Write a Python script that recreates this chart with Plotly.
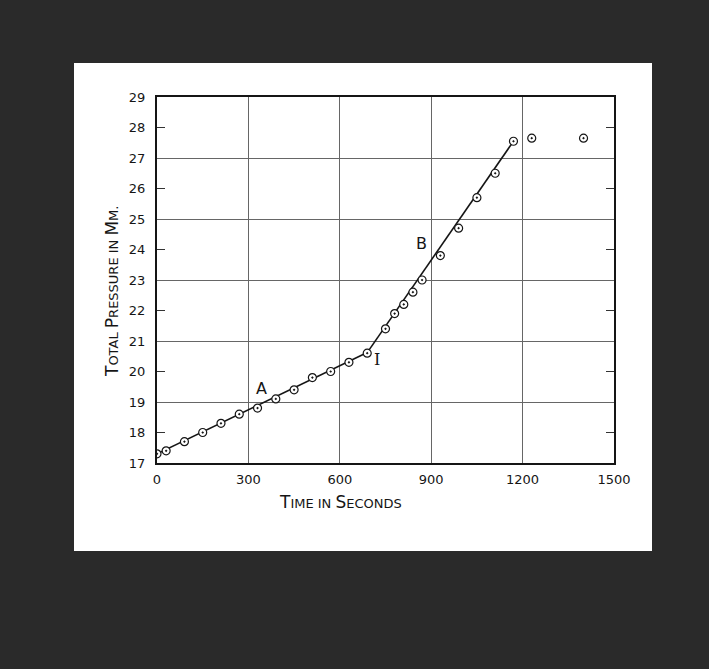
import plotly.graph_objects as go

# ---- data ----
time_s = [0, 30, 90, 150, 210, 270, 330, 390, 450, 510, 570, 630, 690,
          750, 780, 810, 840, 870, 930, 990, 1050, 1110, 1170, 1230, 1400]
pressure_mm = [17.3, 17.4, 17.7, 18.0, 18.3, 18.6, 18.8, 19.1, 19.4, 19.8, 20.0, 20.3, 20.6,
               21.4, 21.9, 22.2, 22.6, 23.0, 23.8, 24.7, 25.7, 26.5, 27.55, 27.65, 27.65]

line_a_x = [0, 690]
line_a_y = [17.3, 20.62]
line_b_x = [690, 1170]
line_b_y = [20.62, 27.55]

x_ticks = [0, 300, 600, 900, 1200, 1500]
x_grid = [300, 600, 900, 1200]
y_labels = list(range(17, 30))
y_grid = [19, 21, 23, 25, 27]
y_ticks = [18, 20, 22, 24, 26, 28]

labels = [("A", 343, 19.45), ("B", 867, 24.2), ("I", 722, 20.4)]

FONT = "DejaVu Sans"
INK = "#151515"
BG = "#2a2a2a"

fig = go.Figure()
fig.add_trace(go.Scatter(x=line_a_x, y=line_a_y, mode="lines",
                         line=dict(color=INK, width=1.6), showlegend=False, hoverinfo="skip"))
fig.add_trace(go.Scatter(x=line_b_x, y=line_b_y, mode="lines",
                         line=dict(color=INK, width=1.6), showlegend=False, hoverinfo="skip"))
fig.add_trace(go.Scatter(x=time_s, y=pressure_mm, mode="markers",
                         marker=dict(symbol="circle-dot", size=8, color="white",
                                     line=dict(color=INK, width=1.2)),
                         showlegend=False))
# helper traces so the tick-only axes are drawn
fig.add_trace(go.Scatter(x=[None], y=[None], yaxis="y2", showlegend=False))
fig.add_trace(go.Scatter(x=[None], y=[None], yaxis="y3", showlegend=False))

for txt, xv, yv in labels:
    fig.add_annotation(x=xv, y=yv, text=txt, showarrow=False,
                       font=dict(family="DejaVu Serif" if txt == "I" else FONT,
                                 size=16, color=INK))

small = "font-size:13px"
fig.add_annotation(xref="paper", yref="paper", x=(340 - 157) / 457, y=(463 - 502) / 366,
                   xanchor="center", yanchor="middle",
                   text=f"T<span style='{small}'>IME IN </span>S<span style='{small}'>ECONDS</span>",
                   showarrow=False, font=dict(family=FONT, size=17, color=INK))
fig.add_annotation(xref="paper", yref="paper", x=(112 - 157) / 457, y=(463 - 292) / 366,
                   xanchor="center", yanchor="middle",
                   text=(f"T<span style='{small}'>OTAL </span>P<span style='{small}'>RESSURE IN </span>"
                         f"M<span style='{small}'>M.</span>"),
                   textangle=-90, showarrow=False, font=dict(family=FONT, size=17, color=INK))

# white sheet of paper
fig.add_shape(type="rect", xref="paper", yref="paper", layer="below",
              x0=(74 - 157) / 457, x1=(652 - 157) / 457,
              y0=(463 - 551) / 366, y1=(463 - 63) / 366,
              fillcolor="white", line=dict(width=0))

tickfont = dict(family=FONT, size=13, color=INK)
fig.update_layout(
    width=709, height=669,
    margin=dict(l=157, r=95, t=97, b=206),
    paper_bgcolor=BG,
    plot_bgcolor="rgba(0,0,0,0)",
    xaxis=dict(range=[0, 1500], tickvals=x_ticks, ticks="", showgrid=False,
               showline=True, linecolor=INK, linewidth=2, mirror=True,
               zeroline=False, tickfont=tickfont, ticklabelstandoff=3,
               minor=dict(tickvals=x_grid, showgrid=True, gridcolor="#666666",
                          gridwidth=1, ticks="")),
    yaxis=dict(range=[17, 29], tickvals=y_labels, ticks="", showgrid=False,
               showline=True, linecolor=INK, linewidth=2, mirror=True,
               zeroline=False, tickfont=tickfont, ticklabelstandoff=7,
               minor=dict(tickvals=y_grid, showgrid=True, gridcolor="#666666",
                          gridwidth=1, ticks="")),
    yaxis2=dict(range=[17, 29], overlaying="y", side="left", tickvals=y_ticks,
                ticks="inside", ticklen=8, tickwidth=1.2, tickcolor="#333333",
                showticklabels=False, showgrid=False, zeroline=False, showline=False),
    yaxis3=dict(range=[17, 29], overlaying="y", side="right", tickvals=y_ticks,
                ticks="inside", ticklen=8, tickwidth=1.2, tickcolor="#333333",
                showticklabels=False, showgrid=False, zeroline=False, showline=False),
)

fig.write_html("out.html", config={"displayModeBar": False},
               post_script=f"document.body.style.margin='0';document.body.style.background='{BG}';")
